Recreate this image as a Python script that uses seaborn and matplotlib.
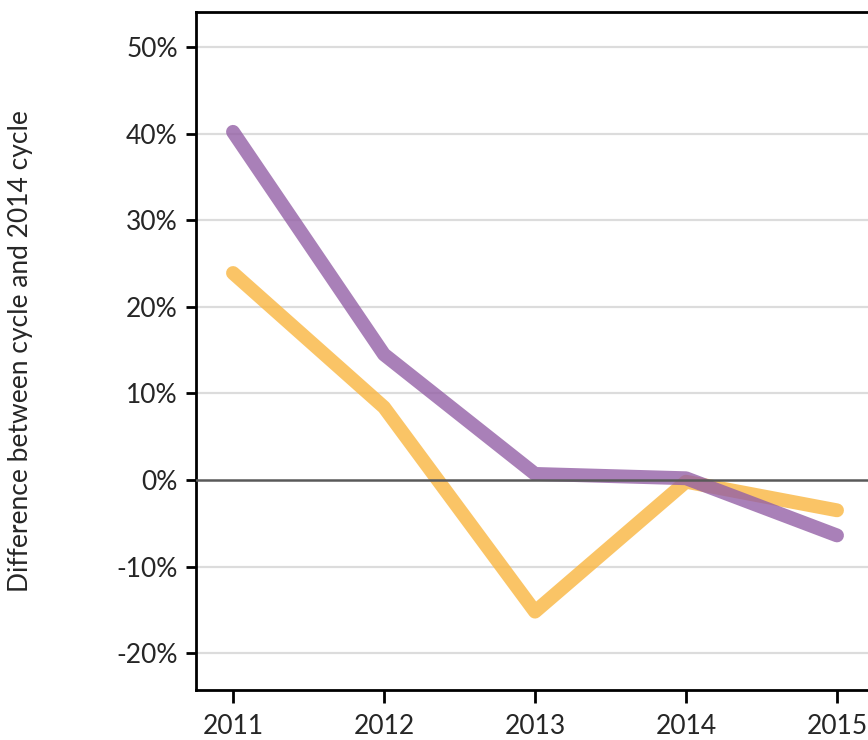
import matplotlib
matplotlib.use("Agg")
import matplotlib.pyplot as plt
import seaborn as sns
import pandas as pd
from matplotlib.ticker import FuncFormatter

years = [2011, 2012, 2013, 2014, 2015]
series_a = [40.2, 14.5, 0.7, 0.2, -6.4]   # purple
series_b = [23.9, 8.4, -15.2, -0.2, -3.5]  # orange
y_ticks = [-20, -10, 0, 10, 20, 30, 40, 50]

df = pd.DataFrame({
    "year": years * 2,
    "value": series_b + series_a,
    "series": ["B"] * 5 + ["A"] * 5,
})

sns.set_theme(style="white")
plt.rcParams["font.family"] = ["Lato", "DejaVu Sans"]

fig = plt.figure(figsize=(8.68, 7.4), dpi=100)
ax = fig.add_axes([196 / 868, 1 - 690 / 740, 1 - 196 / 868, (690 - 12) / 740])

for y in y_ticks:
    if y != 0:
        ax.axhline(y, color="#dcdcdc", lw=1.6, zorder=0)

sns.lineplot(data=df, x="year", y="value", hue="series",
             palette={"A": "#9460a6", "B": "#f9b640"},
             hue_order=["B", "A"], lw=10, alpha=0.8,
             solid_capstyle="round", legend=False, ax=ax, zorder=2)
ax.axhline(0, color="#595959", lw=1.8, zorder=3)

ax.set_xlim(2011 - 37 / 151, 2015 + 31 / 151)
ax.set_ylim(-24.25, 54.04)
ax.set_xticks(years)
ax.set_yticks(y_ticks)
ax.yaxis.set_major_formatter(FuncFormatter(lambda v, p: f"{int(v)}%"))
ax.set_xlabel("")
ax.set_ylabel("Difference between cycle and 2014 cycle", fontsize=19, labelpad=60)
ax.tick_params(axis="y", direction="out", length=7, width=2, labelsize=19, color="black", left=True, pad=6)
ax.tick_params(axis="x", direction="out", length=9, width=2, labelsize=19, color="black", bottom=True, pad=8)
for s in ["left", "bottom", "top"]:
    ax.spines[s].set_visible(True)
    ax.spines[s].set_color("black")
    ax.spines[s].set_linewidth(2)
ax.spines["right"].set_visible(False)

fig.savefig("out.png", dpi=100)
